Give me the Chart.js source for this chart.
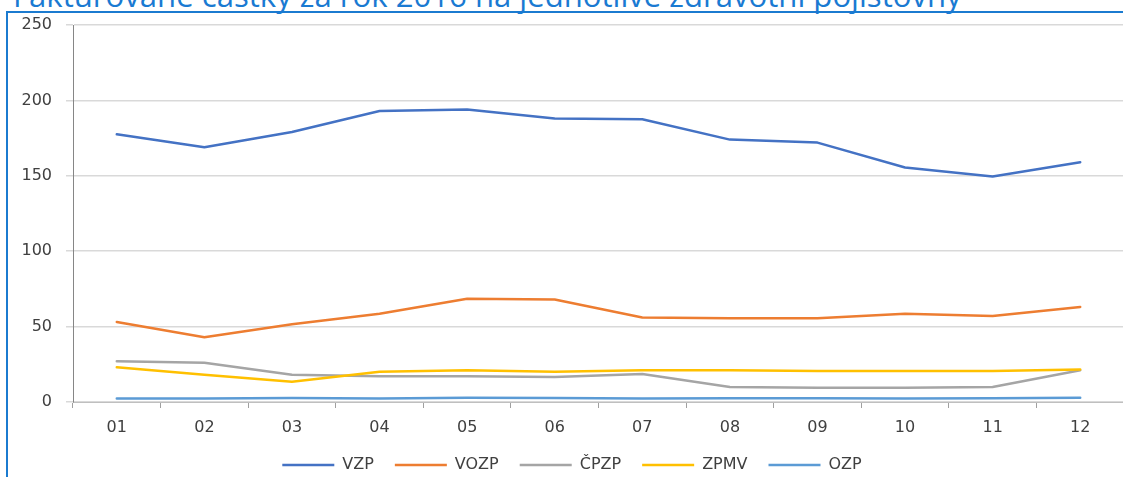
<!DOCTYPE html>
<html><head><meta charset="utf-8">
<script src="https://cdn.jsdelivr.net/npm/chart.js@4"></script>
<style>
html,body{margin:0;padding:0;width:1123px;height:477px;overflow:hidden;background:#fff}
#title{position:absolute;left:0;top:0;white-space:nowrap;color:#1a7ad2;font-family:"Open Sans";font-size:26px;line-height:26px}
#frame{position:absolute;left:6px;top:11px;width:1130px;height:480px;border-top:2px solid #1b7bd0;border-left:2px solid #1b7bd0}
#c{position:absolute;left:0;top:0}
</style></head><body>
<div id="frame"></div>
<div id="title">1 Fakturované částky za rok 2016 na jednotlivé zdravotní pojišťovny</div>
<canvas id="c" width="1126" height="490"></canvas>
<script>
const months = ['01','02','03','04','05','06','07','08','09','10','11','12'];
const seriesNames = ['VZP','VOZP','ČPZP','ZPMV','OZP'];
const vzp  = [177.5, 169, 179, 193, 194, 188, 187.5, 174, 172, 155.5, 149.5, 159];
const vozp = [53, 43, 51.5, 58.5, 68.5, 68, 56, 55.5, 55.5, 58.5, 57, 63];
const cpzp = [27, 26, 18, 17, 17, 16.5, 18.5, 10, 9.5, 9.5, 10, 21];
const zpmv = [23, 18, 13.5, 20, 21, 20, 21, 21, 20.5, 20.5, 20.5, 21.5];
const ozp  = [2.3, 2.3, 2.7, 2.4, 2.8, 2.6, 2.4, 2.5, 2.5, 2.4, 2.5, 2.8];
const yMin = 0, yMax = 250, yStep = 50;
const colors = ['#4472C4','#ED7D31','#A5A5A5','#FFC000','#5B9BD5'];

// title fit
(function(){
  const t = document.getElementById('title');
  const cv = document.createElement('canvas').getContext('2d');
  cv.font = '26px "Open Sans"';
  const main = 'Fakturované částky za rok 2016 na jednotlivé zdravotní pojišťovny';
  const w = cv.measureText(main).width;
  const size = 26 * 949 / w;
  cv.font = size + 'px "Open Sans"';
  const wp = cv.measureText('1 ').width;
  t.style.fontSize = size + 'px';
  t.style.lineHeight = size + 'px';
  t.style.left = (13 - wp) + 'px';
  t.style.top = (7.5 - 0.888 * size) + 'px';
})();

const font = {family: 'DejaVu Sans', size: 16};
const xFont = {family: 'DejaVu Sans', size: 16, lineHeight: 1};
const allData = [vzp, vozp, cpzp, zpmv, ozp];
const datasets = seriesNames.map((n, i) => ({
  label: n,
  data: allData[i],
  borderColor: colors[i],
  backgroundColor: colors[i],
  pointBorderWidth: 2.5,
  order: 5 - i
}));

new Chart(document.getElementById('c'), {
  type: 'line',
  data: {labels: months, datasets},
  options: {
    responsive: false,
    animation: false,
    layout: {padding: {left: 20, right: 2, top: 25, bottom: 7}},
    elements: {
      line: {tension: 0, borderWidth: 2.5, borderJoinStyle: 'round', borderCapStyle: 'round'},
      point: {radius: 0, hoverRadius: 0}
    },
    plugins: {
      legend: {
        position: 'bottom',
        labels: {
          font, color: '#404040', usePointStyle: true, pointStyle: 'line',
          pointStyleWidth: 52, padding: 21,
          sort: (a, b) => a.datasetIndex - b.datasetIndex
        }
      },
      tooltip: {enabled: false}
    },
    scales: {
      x: {
        offset: true,
        grid: {display: true, drawOnChartArea: false, drawTicks: true, tickLength: 6, color: '#a0a0a0', offset: true},
        border: {display: true, color: '#bfbfbf', width: 1},
        ticks: {font: xFont, color: '#404040', padding: 12, maxRotation: 0, autoSkip: false},
        afterFit: s => { s.height = 34; }
      },
      y: {
        min: yMin, max: yMax,
        ticks: {stepSize: yStep, font, color: '#404040', padding: 14},
        grid: {color: '#d9d9d9', lineWidth: 1.5, tickLength: 7},
        border: {display: true, color: '#868686', width: 1},
        afterFit: s => { s.width = 53; }
      }
    }
  }
});
</script>
</body></html>
